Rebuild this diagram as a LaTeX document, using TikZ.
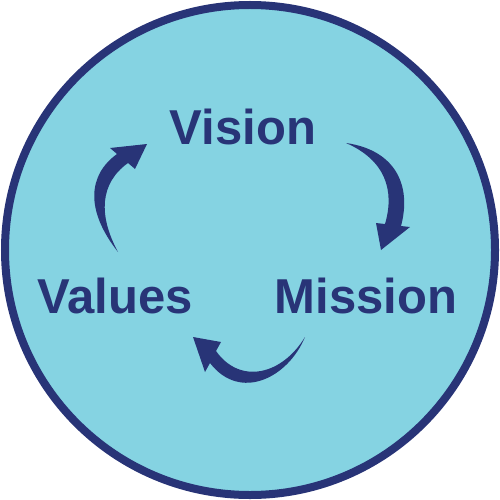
\documentclass[tikz,border=0pt]{standalone}
\usepackage{fontspec}
\setmainfont{Liberation Sans}
\definecolor{navy}{HTML}{283477}
\definecolor{sky}{HTML}{85D3E2}
\begin{document}
\begin{tikzpicture}[x=1pt,y=-1pt,
  word/.style={text=navy,font=\fontsize{49}{58}\selectfont\bfseries,anchor=base,inner sep=0pt},
  arrowshape/.style={fill=navy,draw=none}]
\useasboundingbox (0,0) rectangle (500,500);
\draw[line width=8pt,draw=navy,fill=sky] (250,250) circle (245);
\node[word] (vision) at (243,144) {Vision};
\node[word] (mission) at (366,313.5) {Mission};
\node[word] (values) at (115,313.5) {Values};
% Values -> Vision
\fill[arrowshape] (118,252) .. controls (85,210) and (88,175) .. (117,154)
  -- (110,148) -- (147,144) -- (135,169) -- (128,163)
  .. controls (100,183) and (98,215) .. (118,252) -- cycle;
% Vision -> Mission
\fill[arrowshape] (346,143) .. controls (395,150) and (412,185) .. (401,226)
  -- (410,227) -- (381,250) -- (376,223) -- (385,224)
  .. controls (395,190) and (385,160) .. (346,143) -- cycle;
% Mission -> Values
\fill[arrowshape] (305,337) .. controls (288,378) and (240,402) .. (210,363)
  -- (205,372) -- (193,337) -- (221,342) -- (216,351)
  .. controls (240,385) and (282,375) .. (305,337) -- cycle;
\end{tikzpicture}
\end{document}
